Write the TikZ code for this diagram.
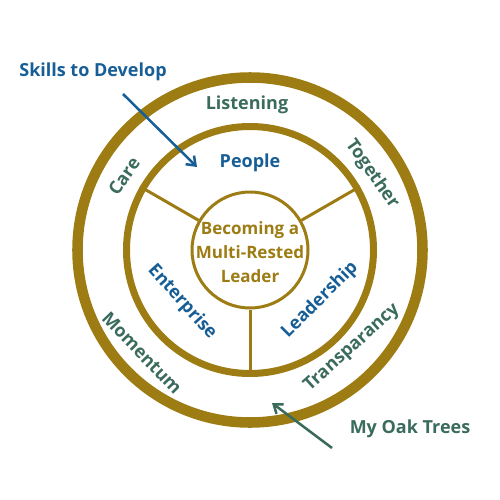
\documentclass[tikz,border=0pt]{standalone}
\usepackage{fontspec}
\setmainfont{Open Sans}
\usetikzlibrary{arrows.meta}
\definecolor{ringgold}{RGB}{157,124,19}
\definecolor{skillblue}{RGB}{23,94,150}
\definecolor{oakgreen}{RGB}{58,107,92}
\begin{document}
\begin{tikzpicture}[x=0.75pt,y=0.75pt,yscale=-1,xscale=1,
  ringline/.style={draw=ringgold,line width=#1},
  word/.style={inner sep=0.75pt,font=\fontsize{13.5}{16}\selectfont\bfseries},
  inword/.style={word,text=skillblue},
  outword/.style={word,text=oakgreen},
  pointer/.style={line width=1.9pt,-{Straight Barb[length=6pt,width=9pt]}}]
\useasboundingbox (0,0) rectangle (500,500);

%Shape: Circle [outer ring]
\node (outerRing) [circle,ringline=7.9pt,minimum size=258.75pt] at (250,250) {};
%Shape: Circle [inner ring]
\node (innerRing) [circle,ringline=5.25pt,minimum size=185.25pt] at (250,250) {};
%Shape: Circle [hub]
\node (hub) [circle,ringline=2.25pt,minimum size=87pt] at (250,250) {};
%Straight Lines [spokes]
\draw [ringline=2.25pt] (hub.150) -- (innerRing.150);
\draw [ringline=2.25pt] (hub.30) -- (innerRing.30);
\draw [ringline=2.25pt] (hub.south) -- (innerRing.south);

% Text Node
\node (hubText) [word,align=center,text=ringgold,font=\fontsize{12.75}{18}\selectfont\bfseries] at (250,252) {Becoming a\\Multi-Rested\\Leader};
% Text Node
\node (people) [inword] at (250,163) {People};
% Text Node
\node (enterprise) [inword,rotate=-48] at (182,302) {Enterprise};
% Text Node
\node (leadership) [inword,rotate=45] at (320,300) {Leadership};
% Text Node
\node (listening) [outword] at (247,105) {Listening};
% Text Node
\node (care) [outword,rotate=55] at (124,176) {Care};
% Text Node
\node (together) [outword,rotate=-55] at (372,174) {Together};
% Text Node
\node (momentum) [outword,rotate=-46] at (142,353) {Momentum};
% Text Node
\node (transparancy) [outword,rotate=42] at (352,348) {Transparancy};
% Text Node
\node (skills) [inword] at (93,72) {Skills to Develop};
% Text Node
\node (oakTrees) [outword] at (410,429) {My Oak Trees};

%Straight Lines [pointers]
\coordinate (skillsTail) at (123,94);
\coordinate (skillsHead) at (197,167);
\draw [pointer,draw=skillblue] (skillsTail) -- (skillsHead);
\coordinate (oakTail) at (332,448);
\coordinate (oakHead) at (272,403);
\draw [pointer,draw=oakgreen] (oakTail) -- (oakHead);

\end{tikzpicture}
\end{document}
